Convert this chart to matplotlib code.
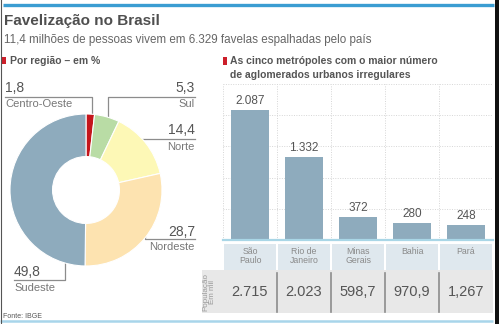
import matplotlib
matplotlib.use("Agg")
import matplotlib.pyplot as plt
from matplotlib.patches import Rectangle
import matplotlib.transforms as mtransforms

plt.rcParams['font.family'] = ['Liberation Sans', 'DejaVu Sans']

# data
regions = ["Centro-Oeste", "Sul", "Norte", "Nordeste", "Sudeste"]
region_pct = [1.8, 5.3, 14.4, 28.7, 49.8]
region_colors = ["#c4161c", "#b9dca5", "#fdf8b6", "#fde3b0", "#8eabbd"]

metro_labels = ["São\nPaulo", "Rio de\nJaneiro", "Minas\nGerais", "Bahia", "Pará"]
metro_favelas = [2087, 1332, 372, 280, 248]
metro_pop = ["2.715", "2.023", "598,7", "970,9", "1,267"]

W, H = 499, 324
fig = plt.figure(figsize=(W / 100, H / 100), dpi=100)
fig.patch.set_facecolor("white")

def box(x, y, w, h):
    # pixel box (top-left origin) -> figure fraction
    return [x / W, 1 - (y + h) / H, w / W, h / H]

# overlay in pixel coordinates, kept underneath the chart axes
ov = fig.add_axes([0, 0, 1, 1])
ov.set_xlim(0, W)
ov.set_ylim(H, 0)
ov.axis("off")
ov.patch.set_visible(False)
ov.set_zorder(-1)

# donut
pax = fig.add_axes(box(10, 114, 152, 152))
pax.pie(region_pct, colors=region_colors, startangle=90, counterclock=False,
        radius=1, wedgeprops=dict(width=0.56, edgecolor="white", linewidth=0.8))
pax.set_xlim(-1, 1)
pax.set_ylim(-1, 1)
pax.set_aspect("equal")
pax.axis("off")

# bars
bax = fig.add_axes(box(223, 84, 270, 156))
bax.patch.set_visible(False)
x = list(range(len(metro_favelas)))
bax.bar(x, metro_favelas, width=0.72, color="#8eabbd", zorder=2)
bax.set_xlim(-0.5, 4.5)
bax.set_ylim(0, 2500)
for s in bax.spines.values():
    s.set_visible(False)
bax.set_xticks([])
bax.set_yticks([])
for gy in [500, 1000, 1500, 2000, 2500]:
    bax.axhline(gy, color="#d6d6d6", lw=0.7, ls=(0, (1, 1.5)), zorder=1)
for gx in [-0.5, 0.5, 1.5, 2.5, 3.5, 4.5]:
    bax.axvline(gx, color="#d6d6d6", lw=0.7, ls=(0, (1, 1.5)), zorder=1)
bax.axhline(0, color="#a9d6e6", lw=1.6, zorder=3, clip_on=False)
for xi, v in zip(x, metro_favelas):
    bax.annotate(f"{v:,}".replace(",", "."), (xi, v), xytext=(0, 2),
                 textcoords="offset points", ha="center", va="bottom",
                 fontsize=8.5, color="#555555")

# table under the bars (x in data, y in pixels below the axes)
def fy(py):
    return (240 - py) / 156

tr = mtransforms.blended_transform_factory(bax.transData, bax.transAxes)
for xi, lab, pop in zip(x, metro_labels, metro_pop):
    bax.add_patch(Rectangle((xi - 0.49, fy(270)), 0.98, fy(244) - fy(270),
                            transform=tr, color="#dfe8ee", clip_on=False, lw=0))
    bax.text(xi, fy(246.5), lab, transform=tr, ha="center", va="top",
             fontsize=6.3, color="#8a8a8a", linespacing=1.1)
    bax.text(xi, fy(292), pop, transform=tr, ha="center", va="center",
             fontsize=10.5, color="#555555")
for xi in x[:-1]:
    bax.plot([xi + 0.5, xi + 0.5], [fy(273), fy(312)], transform=tr,
             color="#8c8c8c", lw=1.2, clip_on=False)

ov.add_patch(Rectangle((202, 270), 291, 43, color="#e8e8e8", lw=0, zorder=0))
ov.text(209.5, 292, "População\nEm mil", rotation=90, ha="center", va="center",
        fontsize=5.8, color="#9a9a9a", linespacing=0.95)

# frame lines
ov.plot([3, 494], [4.5, 4.5], color="#3b9dd2", lw=2.4, solid_capstyle="butt")
ov.plot([0, 493], [320.5, 320.5], color="#a8d5ea", lw=1.8, solid_capstyle="butt")
ov.add_patch(Rectangle((495.5, 0), 4, H, color="#111111", lw=0))
ov.plot([0.5, 0.5], [0, H], color="#555555", lw=0.8)

# titles
ov.text(4, 21, "Favelização no Brasil", fontsize=11, fontweight="bold",
        color="#4f4f4f", va="center")
ov.text(4, 40, "11,4 milhões de pessoas vivem em 6.329 favelas espalhadas pelo país",
        fontsize=8.4, color="#666666", va="center")
ov.add_patch(Rectangle((2, 56.5), 4, 7.5, color="#cc1f2a", lw=0))
ov.text(10, 61, "Por região – em %", fontsize=7.5, fontweight="bold",
        color="#555555", va="center")
ov.add_patch(Rectangle((223, 57), 4, 7.5, color="#cc1f2a", lw=0))
ov.text(230, 61, "As cinco metrópoles com o maior número", fontsize=7.5,
        fontweight="bold", color="#555555", va="center")
ov.text(230, 75, "de aglomerados urbanos irregulares", fontsize=7.5,
        fontweight="bold", color="#555555", va="center")
ov.text(3, 316, "Fonte: IBGE", fontsize=5, color="#555555", va="center")

# donut labels with leader lines (layout positions in pixels)
lbl_pos = [  # x, value y, name y, align
    (5, 88, 104, "left"),
    (195, 88, 104, "right"),
    (195, 130, 147, "right"),
    (195, 232, 247, "right"),
    (14, 272, 288, "left"),
]
leaders = [
    [(5, 97), (92, 97), (92, 114)],
    [(195, 97), (108, 97), (108, 122)],
    [(195, 139), (140, 139)],
    [(195, 239), (145, 239), (145, 222)],
    [(14, 280), (65, 280), (65, 250)],
]
for name, pct, (lx, vy, ny, al), pts in zip(regions, region_pct, lbl_pos, leaders):
    ov.text(lx, vy, f"{pct}".replace(".", ","), fontsize=10, color="#555555",
            ha=al, va="center")
    ov.text(lx, ny, name, fontsize=8, color="#777777", ha=al, va="center")
    ov.plot([p[0] for p in pts], [p[1] for p in pts], color="#8c8c8c", lw=0.9)

fig.savefig("out.png", dpi=100)
